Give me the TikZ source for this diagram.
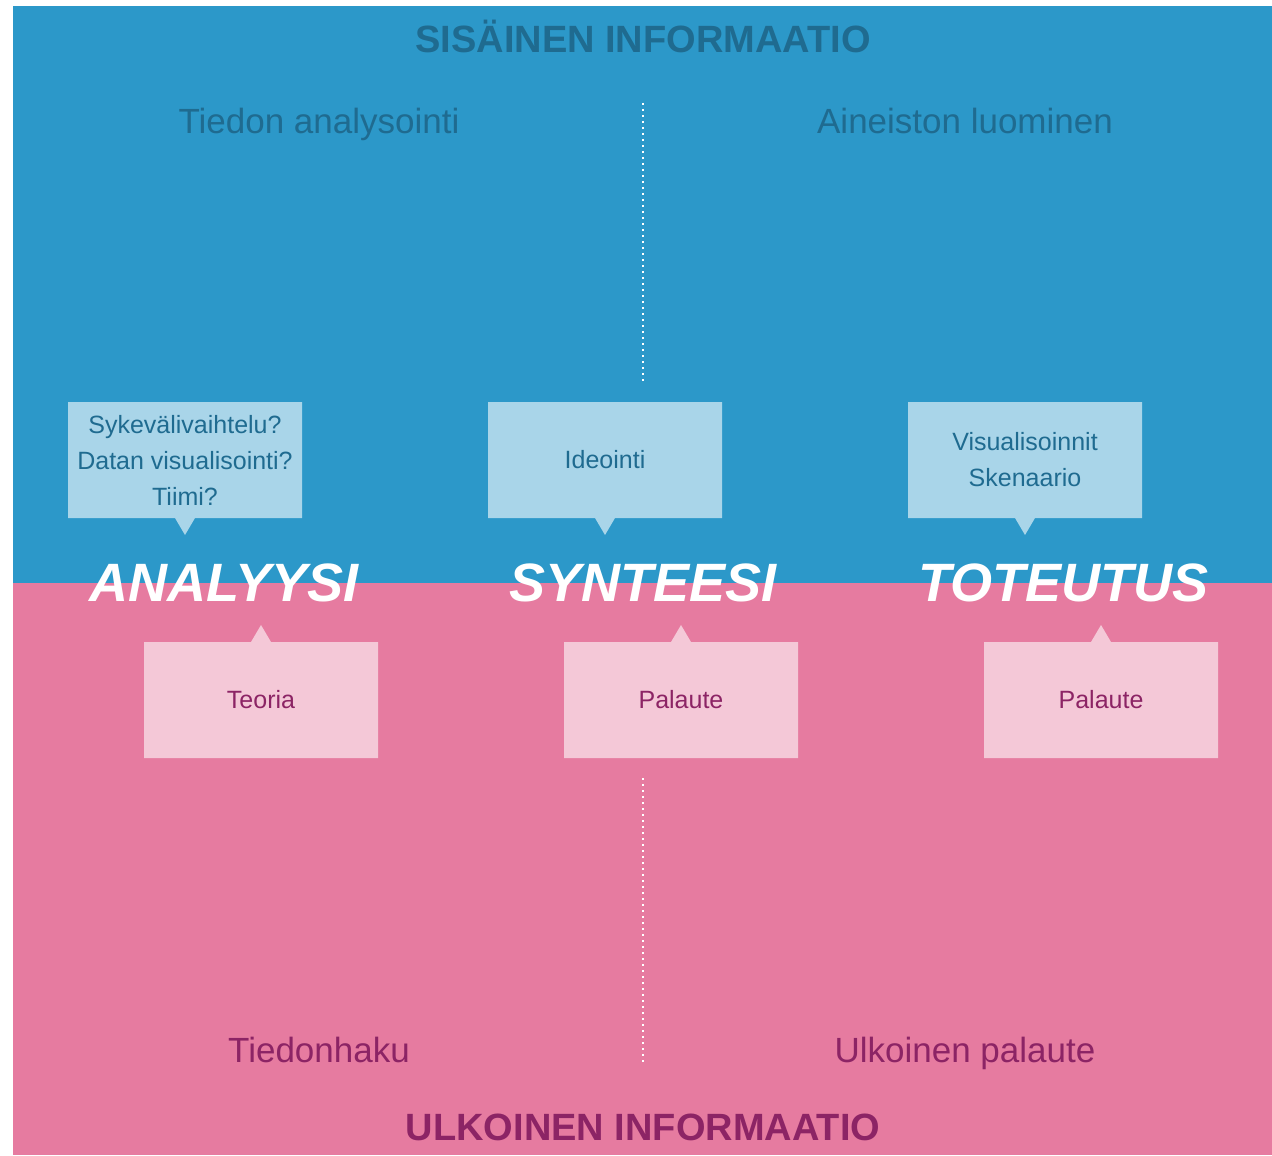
\documentclass[tikz,border=0pt]{standalone}
\usepackage{fontspec}
\setmainfont{Liberation Sans}
\usetikzlibrary{shapes.callouts}
\definecolor{sblue}{HTML}{2C98C9}
\definecolor{spink}{HTML}{E67BA0}
\definecolor{bluesoft}{HTML}{A9D5E9}
\definecolor{pinksoft}{HTML}{F4C8D7}
\definecolor{bluetext}{HTML}{1F6B90}
\definecolor{pinktext}{HTML}{8C2465}
\tikzset{
  bubble/.style={
    rectangle callout, fill=#1, draw=none, inner sep=0pt, align=center,
    minimum width=117pt, minimum height=58pt, callout pointer width=10pt,
    font=\fontsize{12.5}{18}\selectfont
  },
  inbubble/.style={bubble=bluesoft, text=bluetext, callout relative pointer={(0pt,-8.5pt)}},
  outbubble/.style={bubble=pinksoft, text=pinktext, callout relative pointer={(0pt,8.5pt)}},
  head/.style={font=\fontsize{19}{22}\selectfont\bfseries, text=#1, anchor=base, inner sep=0pt},
  area/.style={font=\fontsize{17.5}{20}\selectfont, text=#1, anchor=base, inner sep=0pt},
  phase/.style={font=\fontsize{27}{30}\selectfont\bfseries\itshape, text=white, anchor=base, inner sep=0pt},
  divider/.style={draw=white, line width=1pt, dotted}
}
\begin{document}
\begin{tikzpicture}[x=0.5pt,y=-0.5pt]
  \useasboundingbox (0,0) rectangle (1272,1155);
  % two halves
  \fill[sblue] (13,6) rectangle (1272,583);
  \fill[spink] (13,583) rectangle (1272,1155);

  \node[head=bluetext] (inner) at (643,53) {SISÄINEN INFORMAATIO};
  \node[head=pinktext] (outer) at (643,1140) {ULKOINEN INFORMAATIO};

  \node[area=bluetext] (analysis) at (319,134) {Tiedon analysointi};
  \node[area=bluetext] (creation) at (965,134) {Aineiston luominen};
  \node[area=pinktext] (search) at (319,1062) {Tiedonhaku};
  \node[area=pinktext] (feedback) at (965,1062) {Ulkoinen palaute};

  \coordinate (d1) at (643,103);
  \coordinate (d2) at (643,382);
  \coordinate (d3) at (643,778);
  \coordinate (d4) at (643,1062);
  \draw[divider] (d1) -- (d2);
  \draw[divider] (d3) -- (d4);

  % speech bubbles
  \node[inbubble] (q1) at (185,460) {Sykevälivaihtelu?\\Datan visualisointi?\\Tiimi?};
  \node[inbubble] (q2) at (605,460) {Ideointi};
  \node[inbubble] (q3) at (1025,460) {Visualisoinnit\\Skenaario};
  \node[outbubble] (f1) at (261,700) {Teoria};
  \node[outbubble] (f2) at (681,700) {Palaute};
  \node[outbubble] (f3) at (1101,700) {Palaute};

  % phases
  \node[phase] (p1) at (224,601) {ANALYYSI};
  \node[phase] (p2) at (643,601) {SYNTEESI};
  \node[phase] (p3) at (1063,601) {TOTEUTUS};
\end{tikzpicture}
\end{document}
